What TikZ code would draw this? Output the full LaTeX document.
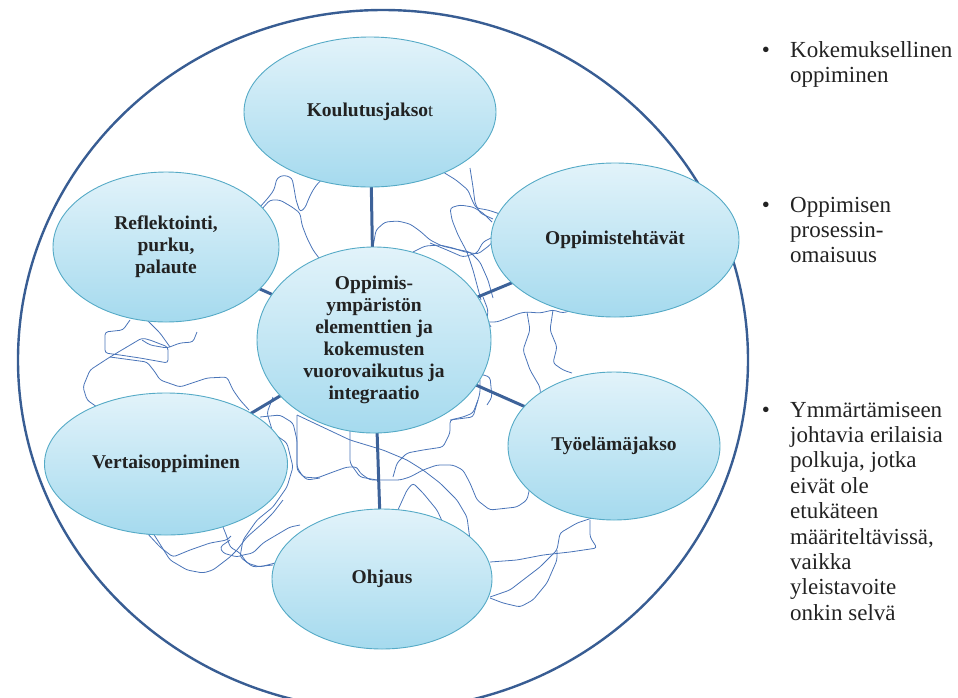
\documentclass[tikz,border=0pt]{standalone}
\usepackage{fontspec}
\setmainfont{Liberation Serif}
\usetikzlibrary{shapes.geometric,backgrounds}

\definecolor{ringblue}{HTML}{385D93}
\definecolor{spokeblue}{HTML}{3D6299}
\definecolor{threadblue}{HTML}{4A74B8}
\definecolor{bubbleedge}{HTML}{55AAC6}
\definecolor{bubbletop}{HTML}{E2F3FA}
\definecolor{bubblebot}{HTML}{A5DAEE}
\definecolor{inktext}{HTML}{222222}

\newcommand\bubblefont{\fontsize{19.5}{22}\selectfont\bfseries}
\newcommand\sidefont{\fontsize{23}{25}\selectfont}

\tikzset{
  bubble/.style={ellipse, draw=bubbleedge, line width=0.9pt,
    top color=bubbletop, bottom color=bubblebot,
    inner xsep=-14pt, inner ysep=-10pt, align=center,
    font=\bubblefont, text=inktext},
  thread/.style={draw=threadblue, line width=0.8pt, rounded corners=3pt,
    line join=round},
  spoke/.style={draw=spokeblue, line width=3pt},
  ring/.style={draw=ringblue, line width=2.4pt},
  sideline/.style={font=\sidefont, anchor=base west, inner sep=0pt, text=inktext},
  dot/.style={font=\sidefont, anchor=base, inner sep=0pt, text=inktext},
}

\begin{document}
\begin{tikzpicture}[x=1pt,y=-1pt]
\useasboundingbox (0,0) rectangle (958,697);

% the seven bubbles
\node[bubble, minimum width=252pt, minimum height=150pt] (kj) at (370,112)
  {Koulutusjakso{\fontsize{18}{18}\selectfont\mdseries t}};
\node[bubble, minimum width=248pt, minimum height=154pt] (ot) at (615,240)
  {Oppimistehtävät};
\node[bubble, minimum width=226pt, minimum height=150pt] (rf) at (166,247)
  {Reflektointi,\\purku,\\palaute};
\node[bubble, minimum width=234pt, minimum height=186pt] (hub) at (374,340)
  {Oppimis-\\ympäristön\\elementtien ja\\kokemusten\\vuorovaikutus ja\\integraatio};
\node[bubble, minimum width=243pt, minimum height=142pt] (vo) at (166,464)
  {Vertaisoppiminen};
\node[bubble, minimum width=212pt, minimum height=148pt] (tj) at (614,446)
  {Työelämäjakso};
\node[bubble, minimum width=220pt, minimum height=140pt] (oh) at (382,579)
  {Ohjaus};

\begin{scope}[on background layer]
  % outer ring
  \draw[ring] (383,360) ellipse [x radius=365pt, y radius=350pt];

  % tangled learning paths
  \draw[thread] (260,207) -- (268,198) -- (274,190) -- (277,178) -- (284,175) -- (292,178) -- (294,188) -- (296,200) -- (300,212) -- (305,208) -- (309,198) -- (313,190) -- (318,183) -- (324,178);
  \draw[thread] (261,210) -- (270,200) -- (280,200) -- (292,207) -- (300,213) -- (302,225) -- (307,238) -- (313,250) -- (322,262);
  \draw[thread] (373,247) -- (376,230) -- (385,222) -- (398,221) -- (410,224) -- (420,231) -- (430,240) -- (442,246) -- (455,249) -- (470,252) -- (480,262) -- (488,280) -- (493,298);
  \draw[thread] (413,252) -- (425,246) -- (440,245) -- (453,248) -- (465,252) -- (478,254) -- (490,245) -- (497,236);
  \draw[thread] (443,172) -- (456,180) -- (468,190) -- (472,200) -- (476,208) -- (488,210) -- (500,214);
  \draw[thread] (492,222) -- (483,213) -- (473,207) -- (460,205) -- (450,208) -- (452,220) -- (458,235) -- (467,252) -- (473,270) -- (477,285) -- (481,300);
  \draw[thread] (470,168) -- (473,187) -- (475,203) -- (480,213) -- (493,219);
  \draw[thread] (430,243) -- (447,250) -- (463,257) -- (477,253) -- (483,242) -- (493,237);
  \draw[thread] (486,322) -- (497,322) -- (510,317) -- (520,313) -- (527,312) -- (540,313) -- (553,310) -- (563,313) -- (572,310);
  \draw[thread] (527,312) -- (530,330) -- (523,350) -- (530,370) -- (540,387) -- (541,405);
  \draw[thread] (553,310) -- (550,330) -- (557,347) -- (553,363) -- (563,370) -- (572,373);
  \draw[thread] (483,297) -- (488,310) -- (487,320) -- (491,327);
  \draw[thread] (477,373) -- (490,377) -- (492,397) -- (487,405);
  \draw[thread] (297,415) -- (350,440) -- (383,450) -- (407,460) -- (423,470) -- (440,483) -- (457,500) -- (467,517) -- (470,540);
  \draw[thread] (297,415) -- (297,433) -- (297,467) -- (303,477) -- (317,478) -- (333,472) -- (347,467) -- (357,467) -- (360,473) -- (370,480) -- (383,480) -- (400,480) -- (410,477) -- (423,470) -- (437,465) -- (453,465) -- (463,470) -- (470,483) -- (477,500) -- (490,510) -- (517,507) -- (527,500) -- (530,487);
  \draw[thread] (350,430) -- (350,463) -- (360,477) -- (377,480);
  \draw[thread] (393,477) -- (397,463) -- (407,453) -- (423,450) -- (443,447) -- (450,433) -- (450,420) -- (463,417) -- (473,413) -- (478,400);
  \draw[thread] (397,512) -- (407,490) -- (413,483) -- (423,493) -- (437,510) -- (443,523);
  \draw[thread] (147,533) -- (160,547) -- (173,557) -- (190,550) -- (210,543) -- (227,540) -- (231,536);
  \draw[thread] (153,533) -- (170,560) -- (187,570) -- (203,573) -- (213,570) -- (230,557) -- (237,550) -- (247,537) -- (263,523) -- (273,513) -- (283,500);
  \draw[thread] (223,527) -- (227,537) -- (230,547) -- (240,553) -- (247,563) -- (260,567) -- (275,563);
  \draw[thread] (230,540) -- (220,547) -- (223,553) -- (237,557) -- (243,555) -- (253,553) -- (263,543) -- (273,537) -- (290,527) -- (300,525);
  \draw[thread] (130,320) -- (123,330) -- (105,332) -- (105,353) -- (120,355) -- (140,358) -- (168,363) -- (168,347) -- (150,340) -- (142,338) -- (110,357) -- (90,370) -- (83,387) -- (87,400) -- (97,407);
  \draw[thread] (147,320) -- (160,333) -- (170,347);
  \draw[thread] (142,340) -- (150,345) -- (167,348) -- (180,343) -- (193,342) -- (197,332);
  \draw[thread] (110,357) -- (147,362) -- (155,372) -- (160,380) -- (180,387) -- (207,378) -- (227,377) -- (233,390) -- (240,400) -- (249,410);
  \draw[thread] (260,417) -- (280,415) -- (293,423) -- (297,440) -- (297,470) -- (307,480) -- (320,478);
  \draw[thread] (273,397) -- (267,413) -- (273,433) -- (287,443) -- (293,467) -- (287,487) -- (273,507) -- (257,520) -- (243,540) -- (240,557) -- (253,567) -- (273,565);
  \draw[thread] (450,420) -- (473,417) -- (480,393) -- (480,380);
  \draw[thread] (490,562) -- (517,560) -- (543,555) -- (570,552) -- (597,548) -- (590,537) -- (590,520);
  \draw[thread] (490,597) -- (510,590) -- (523,580) -- (540,567) -- (557,550) -- (560,533) -- (577,523) -- (592,518);
  \draw[thread] (490,598) -- (503,603) -- (520,607) -- (533,600) -- (547,583) -- (557,560) -- (557,550);

  % spokes from the hub
  \foreach \n in {kj,ot,rf,vo,tj,oh}
    \draw[spoke] (hub.center) -- (\n.center);
\end{scope}

% side notes
\node[dot] (b1) at (766,57) {•};
\node[sideline] (s1a) at (790,57) {Kokemuksellinen};
\node[sideline] (s1b) at (790,82) {oppiminen};

\node[dot] (b2) at (766,212) {•};
\node[sideline] (s2a) at (790,212) {Oppimisen};
\node[sideline] (s2b) at (790,237) {prosessin-};
\node[sideline] (s2c) at (790,262) {omaisuus};

\node[dot] (b3) at (766,417) {•};
\node[sideline] (s3a) at (790,417) {Ymmärtämiseen};
\node[sideline] (s3b) at (790,442.4) {johtavia erilaisia};
\node[sideline] (s3c) at (790,467.8) {polkuja, jotka};
\node[sideline] (s3d) at (790,493.2) {eivät ole};
\node[sideline] (s3e) at (790,518.6) {etukäteen};
\node[sideline] (s3f) at (790,544) {määriteltävissä,};
\node[sideline] (s3g) at (790,569.4) {vaikka};
\node[sideline] (s3h) at (790,594.8) {yleistavoite};
\node[sideline] (s3i) at (790,620.2) {onkin selvä};
\end{tikzpicture}
\end{document}
